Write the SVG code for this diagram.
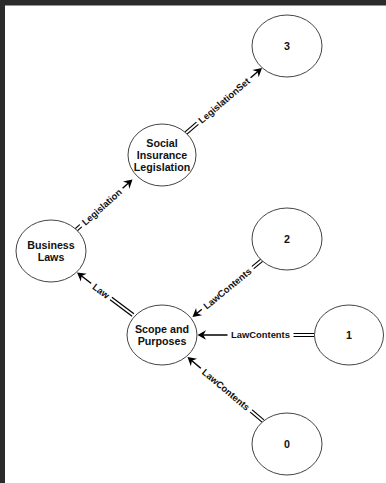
<svg xmlns="http://www.w3.org/2000/svg" width="386" height="483" viewBox="0 0 386 483">
<style>
.node ellipse{fill:#fff;stroke:#444;stroke-width:1}
.node text{font-family:"Liberation Sans",Arial,sans-serif;font-weight:bold;font-size:10.7px;fill:#111;text-anchor:middle}
.edge line{stroke:#000;stroke-width:1.4;fill:none}
.edge line.dbl{stroke-width:1.2}
.lbl rect{fill:#fff}
.lbl text{font-family:"Liberation Sans",Arial,sans-serif;font-weight:bold;font-size:9.4px;fill:#111;text-anchor:middle}
</style>
<defs>
<marker id="arr" viewBox="-4 -6 10 12" refX="0" refY="0" markerWidth="10" markerHeight="12" markerUnits="userSpaceOnUse" orient="auto">
<path d="M5,0 L-3.5,-4.8 L-0.8,0 L-3.5,4.8 Z" fill="#000"/>
</marker>
</defs>
<rect x="0" y="0" width="386" height="483" fill="#fff"/>
<rect x="0" y="0" width="386" height="5.5" fill="#2b2b2b"/>
<rect x="0" y="0" width="5" height="483" fill="#2b2b2b"/>

<g id="connectors" class="edge">
<!-- A: Social Insurance Legislation -> 3 -->
<line class="dbl" x1="186.98" y1="134.14" x2="224.98" y2="101.64"/>
<line class="dbl" x1="185.03" y1="131.86" x2="223.03" y2="99.36"/>
<line x1="224" y1="100.5" x2="258.2" y2="71.25" marker-end="url(#arr)"/>
<!-- B: Business Laws -> Social Insurance Legislation -->
<line class="dbl" x1="77" y1="231.12" x2="102.7" y2="208.12"/>
<line class="dbl" x1="75" y1="228.88" x2="100.7" y2="205.88"/>
<line x1="101.7" y1="207" x2="128.77" y2="182.83" marker-end="url(#arr)"/>
<!-- C: Scope and Purposes -> Business Laws -->
<line class="dbl" x1="133.91" y1="313.8" x2="101.91" y2="289.8"/>
<line class="dbl" x1="132.09" y1="316.2" x2="100.09" y2="292.2"/>
<line x1="101" y1="291" x2="80.98" y2="275.52" marker-end="url(#arr)"/>
<!-- D: 2 -> Scope and Purposes -->
<line class="dbl" x1="262.95" y1="261.16" x2="228.25" y2="289.66"/>
<line class="dbl" x1="261.05" y1="258.84" x2="226.35" y2="287.34"/>
<line x1="227.3" y1="288.5" x2="196.37" y2="313.83" marker-end="url(#arr)"/>
<!-- E: 1 -> Scope and Purposes -->
<line class="dbl" x1="314" y1="333.5" x2="260.5" y2="333.5"/>
<line class="dbl" x1="314" y1="336.5" x2="260.5" y2="336.5"/>
<line x1="260.5" y1="335" x2="202.5" y2="335" marker-end="url(#arr)"/>
<!-- F: 0 -> Scope and Purposes -->
<line class="dbl" x1="263.97" y1="419.86" x2="226.97" y2="388.46"/>
<line class="dbl" x1="262.03" y1="422.14" x2="225.03" y2="390.74"/>
<line x1="226" y1="389.6" x2="191.31" y2="360.23" marker-end="url(#arr)"/>

<g class="lbl" transform="translate(224,100.5) rotate(-40.54)"><rect x="-35" y="-6" width="70" height="12"/><text x="0" y="3.4">LegislationSet</text></g>
<g class="lbl" transform="translate(101.7,207) rotate(-41.8)"><rect x="-28" y="-6" width="56" height="12"/><text x="0" y="3.4">Legislation</text></g>
<g class="lbl" transform="translate(101,291) rotate(37.2)"><rect x="-12.5" y="-6" width="25" height="12"/><text x="0" y="3.4">Law</text></g>
<g class="lbl" transform="translate(227.3,288.5) rotate(-39.36)"><rect x="-33" y="-6" width="66" height="12"/><text x="0" y="3.4">LawContents</text></g>
<g class="lbl" transform="translate(260.5,335)"><rect x="-33" y="-6" width="66" height="12"/><text x="0" y="3.4">LawContents</text></g>
<g class="lbl" transform="translate(226,389.6) rotate(40.29)"><rect x="-33" y="-6" width="66" height="12"/><text x="0" y="3.4">LawContents</text></g>
</g>

<g id="node-3" class="node"><ellipse cx="287" cy="46" rx="35" ry="31"/><text x="287" y="50">3</text></g>
<g id="node-social-insurance-legislation" class="node"><ellipse cx="162" cy="155" rx="34" ry="31"/><text x="162" y="147">Social</text><text x="162" y="159">Insurance</text><text x="162" y="171">Legislation</text></g>
<g id="node-business-laws" class="node"><ellipse cx="51" cy="251" rx="35" ry="31"/><text x="51" y="249">Business</text><text x="51" y="261">Laws</text></g>
<g id="node-2" class="node"><ellipse cx="287" cy="239" rx="35" ry="31"/><text x="287" y="243">2</text></g>
<g id="node-scope-and-purposes" class="node"><ellipse cx="162" cy="335" rx="35" ry="30"/><text x="162" y="333">Scope and</text><text x="162" y="345">Purposes</text></g>
<g id="node-1" class="node"><ellipse cx="349" cy="335" rx="34.5" ry="30"/><text x="349" y="339">1</text></g>
<g id="node-0" class="node"><ellipse cx="287" cy="444" rx="35" ry="31"/><text x="287" y="448">0</text></g>
</svg>
